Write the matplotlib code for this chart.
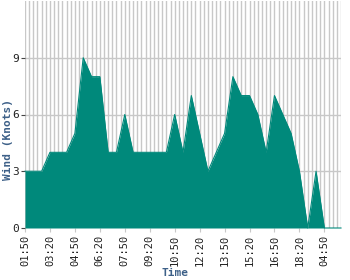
import numpy as np
import matplotlib
matplotlib.use('Agg')
import matplotlib.pyplot as plt

times = ['01:50', '02:20', '02:50', '03:20', '03:50', '04:20', '04:50', '05:20', '05:50',
         '06:20', '06:50', '07:20', '07:50', '08:20', '08:50', '09:20', '09:50', '10:20',
         '10:50', '11:20', '11:50', '12:20', '12:50', '13:20', '13:50', '14:20', '14:50',
         '15:20', '15:50', '16:20', '16:50', '17:20', '17:50', '18:20', '18:50', '19:20',
         '04:50', '05:20', '05:50']
wind = [3, 3, 3, 4, 4, 4, 5, 9, 8, 8, 4, 4, 6, 4, 4, 4, 4, 4, 6, 4,
        7, 5, 3, 4, 5, 8, 7, 7, 6, 4, 7, 6, 5, 3, 0, 3, 0, 0, 0]
label_every = 3
yticks = [0, 3, 6, 9]

plt.rcParams['font.family'] = 'DejaVu Sans Mono'

fig = plt.figure(figsize=(3.5, 2.8), dpi=100)
ax = fig.add_axes([25/350, 52/280, 316/350, 227/280])

x = np.arange(len(wind))
ax.fill_between(x, wind, 0, color='#00897b', lw=0, zorder=2)
ax.plot(x, wind, color='#00897b', lw=0.8, zorder=3, clip_on=False)

# vertical grid every half step
for gx in np.arange(0, len(wind) - 0.5, 0.5):
    ax.axvline(gx, color='#c8c8c8', lw=1, zorder=1)
for gy in yticks[1:]:
    ax.axhline(gy, color='#c8c8c8', lw=1, zorder=1)

ax.set_xlim(0, len(wind) - 1)
ax.set_ylim(0, 12)
ax.set_xticks(x[::label_every])
ax.set_xticklabels(times[::label_every], rotation=90, fontsize=7.5, color='#222222')
ax.set_yticks(yticks)
ax.set_yticklabels([str(v) for v in yticks], fontsize=8, color='#222222')
ax.tick_params(axis='x', length=3, color='#c8c8c8', pad=2)
ax.tick_params(axis='y', length=3, color='#444444', pad=1)
for s in ax.spines.values():
    s.set_visible(False)

fig.text(175/350, 1 - 273/280, 'Time', fontsize=8, fontweight='bold',
         color='#3d6088', ha='center', va='center')
fig.text(8/350, 1 - 140/280, 'Wind (Knots)', fontsize=8, fontweight='bold',
         color='#3d6088', ha='center', va='center', rotation=90)

fig.savefig('out.png', dpi=100)
